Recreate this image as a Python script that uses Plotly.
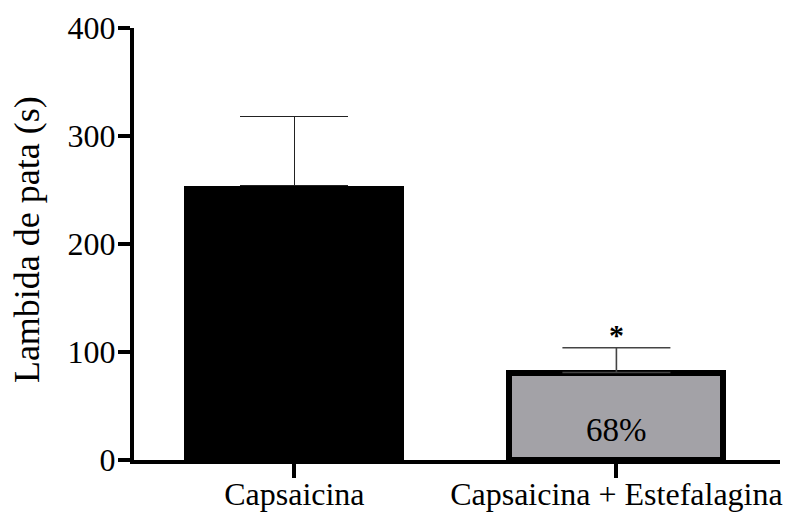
import plotly.graph_objects as go

categories = ["Capsaicina", "Capsaicina + Estefalagina"]
means = [254, 81]
sem_plus = [64, 23]
fill_colors = ["#000000", "#a3a2a7"]
y_ticks = [0, 100, 200, 300, 400]
pct_label = "68%"
sig_label = "<b>*</b>"

FONT = "Liberation Serif"

fig = go.Figure()
fig.add_trace(go.Bar(
    x=[categories[0]], y=[means[0]],
    width=0.683,
    marker=dict(color=fill_colors[0], line=dict(width=0)),
    error_y=dict(type="data", symmetric=False, array=[sem_plus[0]], arrayminus=[0],
                 color="#222222", thickness=1.6, width=54),
))
fig.add_trace(go.Bar(
    x=[categories[1]], y=[means[1]],
    width=0.665,
    marker=dict(color=fill_colors[1], line=dict(width=6, color="#000000")),
    error_y=dict(type="data", symmetric=False, array=[sem_plus[1]], arrayminus=[0],
                 color="#444444", thickness=1.6, width=54),
))

fig.add_annotation(x=categories[1], y=27.8, text=pct_label, showarrow=False,
                   font=dict(family=FONT, size=33, color="#000000"),
                   xanchor="center", yanchor="middle")
fig.add_annotation(x=categories[1], y=means[1] + sem_plus[1], text=sig_label, showarrow=False,
                   font=dict(family=FONT, size=30, color="#000000"),
                   xanchor="center", yanchor="bottom", yshift=-5)
fig.add_annotation(xref="paper", yref="paper", x=(27 - 134) / 646, y=0.509,
                   text="Lambida de pata (s)", textangle=-90, showarrow=False,
                   font=dict(family=FONT, size=36, color="#000000"),
                   xanchor="center", yanchor="middle")

# the page body adds an 8 px offset; the figure is sized to compensate
fig.update_layout(
    width=783, height=504,
    margin=dict(l=126, r=11, t=20, b=52, autoexpand=False),
    paper_bgcolor="white", plot_bgcolor="white",
    showlegend=False,
    font=dict(family=FONT, size=32, color="#000000"),
    bargap=0,
)
fig.update_xaxes(
    type="category", range=[-0.498, 1.508],
    showline=True, linewidth=4, linecolor="#000000",
    ticks="outside", ticklen=14, tickwidth=4, tickcolor="#000000",
    tickfont=dict(family=FONT, size=32, color="#000000"),
    ticklabelstandoff=-11,
    showgrid=False, zeroline=False, automargin=False,
)
fig.update_yaxes(
    range=[0, 400], tickvals=y_ticks,
    showline=True, linewidth=4, linecolor="#000000",
    ticks="outside", ticklen=12, tickwidth=4, tickcolor="#000000",
    tickfont=dict(family=FONT, size=32, color="#000000"),
    ticklabelstandoff=-4,
    showgrid=False, zeroline=False, automargin=False,
)

fig.write_html("out.html")
